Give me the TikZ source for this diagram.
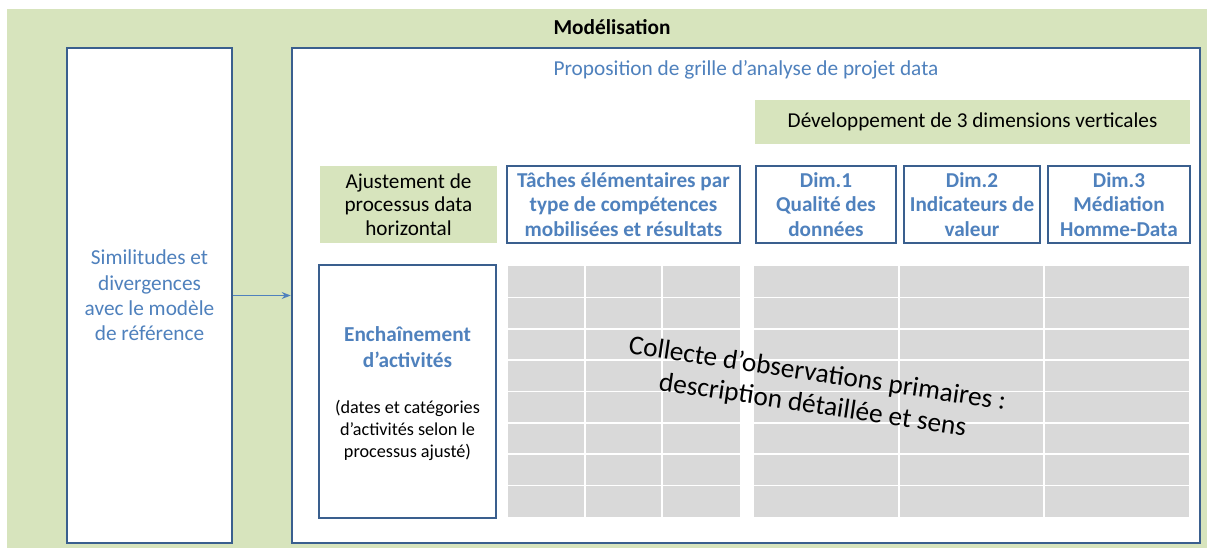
\documentclass[tikz,border=0pt]{standalone}
\usepackage{fontspec}
\setmainfont{Carlito}
\usetikzlibrary{arrows.meta}
\definecolor{bggreen}{HTML}{D7E4BD}
\definecolor{boxblue}{HTML}{3A5F8E}
\definecolor{txtblue}{HTML}{4F81BD}
\definecolor{cellgray}{HTML}{D9D9D9}
\tikzset{
  bigbox/.style={draw=boxblue, line width=2.6pt, fill=white, inner sep=0pt},
  hbox/.style={draw=boxblue, line width=2.6pt, fill=white, align=center, inner sep=1pt,
    font=\fontsize{21.2}{24.7}\selectfont\bfseries, text=txtblue},
  gbox/.style={fill=bggreen, align=center, inner sep=1pt, font=\fontsize{21.2}{23.7}\selectfont},
  bluetxt/.style={text=txtblue, align=center, font=\fontsize{21.3}{25.3}\selectfont},
}
\begin{document}
\begin{tikzpicture}[x=1pt,y=-1pt]
\useasboundingbox (0,0) rectangle (1212,555);
\fill[bggreen] (7,9) rectangle (1207,548);
\node[font=\fontsize{21.3}{24}\selectfont\bfseries] (title) at (612,27) {Modélisation};
\node[bigbox, minimum width=165pt, minimum height=495pt, bluetxt] (left) at (149.5,295.5)
  {Similitudes et\\divergences\\avec le modèle\\de référence};
\node[bigbox, minimum width=908pt, minimum height=495pt] (right) at (746,295.5) {};
\node[bluetxt] (prop) at (746,70) {Proposition de grille d’analyse de projet data};
\node[gbox, minimum width=435pt, minimum height=44pt] (dev) at (972.5,122) {Développement de 3 dimensions verticales};
\node[gbox, minimum width=177pt, minimum height=77pt] (ajust) at (408.5,204.5) {Ajustement de\\processus data\\horizontal};
\node[hbox, minimum width=233pt, minimum height=77pt] (taches) at (623.5,204.5) {Tâches élémentaires par\\type de compétences\\mobilisées et résultats};
\node[hbox, minimum width=140pt, minimum height=77pt] (dim1) at (826,204.5) {Dim.1\\Qualité des\\données};
\node[hbox, minimum width=136pt, minimum height=77pt] (dim2) at (972,204.5) {Dim.2\\Indicateurs de\\valeur};
\node[hbox, minimum width=142pt, minimum height=77pt] (dim3) at (1119,204.5) {Dim.3\\Médiation\\Homme-Data};
\node[bigbox, minimum width=177pt, minimum height=253pt] (ench) at (407.5,391.5) {};
\node[bluetxt, font=\fontsize{21.3}{25.5}\selectfont\bfseries] (enchtitle) at (407.5,347) {Enchaînement\\d’activités};
\node[align=center, font=\fontsize{18.2}{22}\selectfont] (enchsub) at (407.5,430) {(dates et catégories\\d’activités selon le\\processus ajusté)};
% grids
\fill[cellgray] (508,266) rectangle (740,517);
\fill[cellgray] (754,266) rectangle (1189,517);
\begin{scope}[draw=white, line width=1.6pt]
  \foreach \x in {585,662} \draw (\x,266) -- (\x,517);
  \foreach \x in {899,1044} \draw (\x,266) -- (\x,517);
  \foreach \i in {1,...,7} {
    \draw (508,266+31.375*\i) -- (740,266+31.375*\i);
    \draw (754,266+31.375*\i) -- (1189,266+31.375*\i);
  }
\end{scope}
\node[rotate=-8.5, align=center, font=\fontsize{27.3}{31.5}\selectfont] (collecte) at (815,390)
  {Collecte d’observations primaires :\\description détaillée et sens};
\draw[txtblue, line width=1.2pt, -{Stealth[length=9pt,width=7pt]}] (left.east) -- (right.west);
\end{tikzpicture}
\end{document}
